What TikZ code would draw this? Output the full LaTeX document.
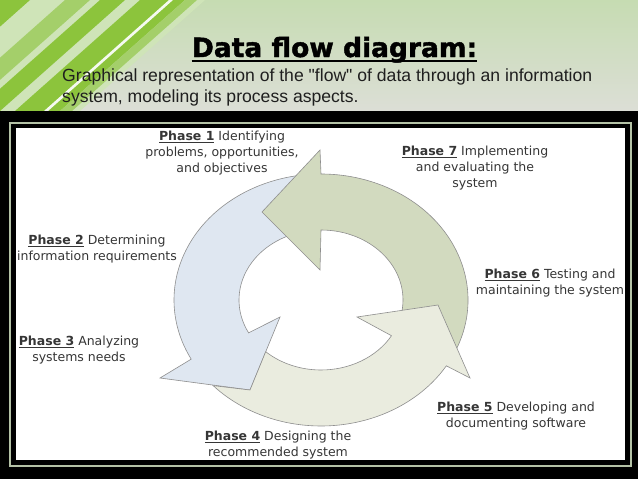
\documentclass[tikz,border=0pt]{standalone}
\usepackage{fontspec}
\setmainfont{DejaVu Sans}
\newfontfamily\subfont{Liberation Sans}
\newfontfamily\titlefont[FakeBold=1.6]{DejaVu Sans Bold}
\usetikzlibrary{calc}

\definecolor{topgreen}{HTML}{C6DCB2}
\definecolor{topgray}{HTML}{DCDED6}
\definecolor{stripebright}{HTML}{8CC43C}
\definecolor{stripemid}{HTML}{A4CF6A}
\definecolor{stripelight}{HTML}{CFE4B8}
\definecolor{framegray}{HTML}{B4C2A6}
\definecolor{bluefill}{HTML}{DFE7F1}
\definecolor{greenfill}{HTML}{D2DABF}
\definecolor{palefill}{HTML}{EAECDF}
\definecolor{ringgray}{HTML}{8E8E8E}
\definecolor{labelgray}{HTML}{363636}

\tikzset{
  phase/.style={font=\fontsize{12.5}{16}\selectfont, text=labelgray, align=center, inner sep=0pt},
  ring/.style={draw=ringgray, line width=0.6pt, line join=miter},
}

\begin{document}
\begin{tikzpicture}[x=1pt, y=-1pt]
  \useasboundingbox (0,0) rectangle (638,479);

  % Slide background
  \shade[top color=topgreen, bottom color=topgray] (0,0) rectangle (638,111);
  \begin{scope}
    \clip (0,0) rectangle (638,111);
    \fill[stripelight] (-130,111) -- (80,111) -- (205,0) -- (-5,0) -- cycle;
    \fill[stripebright] (-125,111) -- (-95,111) -- (30,0) -- (0,0) -- cycle;
    \fill[stripemid] (-60,111) -- (-35,111) -- (90,0) -- (65,0) -- cycle;
    \fill[stripebright] (-25,111) -- (0,111) -- (125,0) -- (100,0) -- cycle;
    \fill[stripebright] (15,111) -- (60,111) -- (185,0) -- (140,0) -- cycle;
    \fill[white!80!stripelight] (44,111) -- (48,111) -- (173,0) -- (169,0) -- cycle;
    \fill[stripemid] (60,111) -- (72,111) -- (197,0) -- (185,0) -- cycle;
  \end{scope}

  % Frame
  \fill[black] (0,111) rectangle (638,479);
  \draw[framegray, line width=2pt] (10,123) rectangle (631,466);
  \fill[white] (16,128) rectangle (625,460);

  % Title
  \node[font=\titlefont\fontsize{26.5}{30}\selectfont, inner sep=0pt, anchor=base] (title) at (334.5,57) {Data flow diagram:};
  \draw[line width=1.8pt] ([yshift=-4pt]title.base west) -- ([yshift=-4pt]title.base east);
  \node[font=\subfont\fontsize{17.6}{21}\selectfont, text=black!88, align=left, inner sep=0pt, anchor=north west] (sub) at (62,69)
    {Graphical representation of the "flow" of data through an information\\system, modeling its process aspects.};

  % Cycle
  \coordinate (C) at (321,300);
  \draw[ring, fill=bluefill] ($(C)+(97:147pt and 126pt)$)
    arc[start angle=97, end angle=208, x radius=147pt, y radius=126pt]
    -- (160,378) -- (250,390) -- (280,317) -- ($(C)+(208:82pt and 70pt)$)
    arc[start angle=208, end angle=97, x radius=82pt, y radius=70pt] -- cycle;
  \draw[ring, fill=greenfill] ($(C)+(334:147pt and 126pt)$)
    arc[start angle=334, end angle=450, x radius=147pt, y radius=126pt]
    -- (320,150) -- (262,212) -- (320,270) -- ($(C)+(450:82pt and 70pt)$)
    arc[start angle=450, end angle=334, x radius=82pt, y radius=70pt] -- cycle;
  \draw[ring, fill=palefill] ($(C)+(222.8:147pt and 126pt)$)
    arc[start angle=222.8, end angle=328.5, x radius=147pt, y radius=126pt]
    -- (470,378) -- (438,305) -- (357,317) -- ($(C)+(329.3:82pt and 70pt)$)
    arc[start angle=329.3, end angle=227.6, x radius=82pt, y radius=70pt] -- (250,390) -- cycle;

  % Phases
  \node[phase] (ph1) at (222,153) {\underline{\textbf{Phase 1}} Identifying\\problems, opportunities,\\and objectives};
  \node[phase] (ph2) at (97,249) {\underline{\textbf{Phase 2}} Determining\\information requirements};
  \node[phase] (ph3) at (79,350) {\underline{\textbf{Phase 3}} Analyzing\\systems needs};
  \node[phase] (ph4) at (278,445) {\underline{\textbf{Phase 4}} Designing the\\recommended system};
  \node[phase] (ph5) at (516,416) {\underline{\textbf{Phase 5}} Developing and\\documenting software};
  \node[phase] (ph6) at (550,283) {\underline{\textbf{Phase 6}} Testing and\\maintaining the system};
  \node[phase] (ph7) at (475,168) {\underline{\textbf{Phase 7}} Implementing\\and evaluating the\\system};
\end{tikzpicture}
\end{document}
